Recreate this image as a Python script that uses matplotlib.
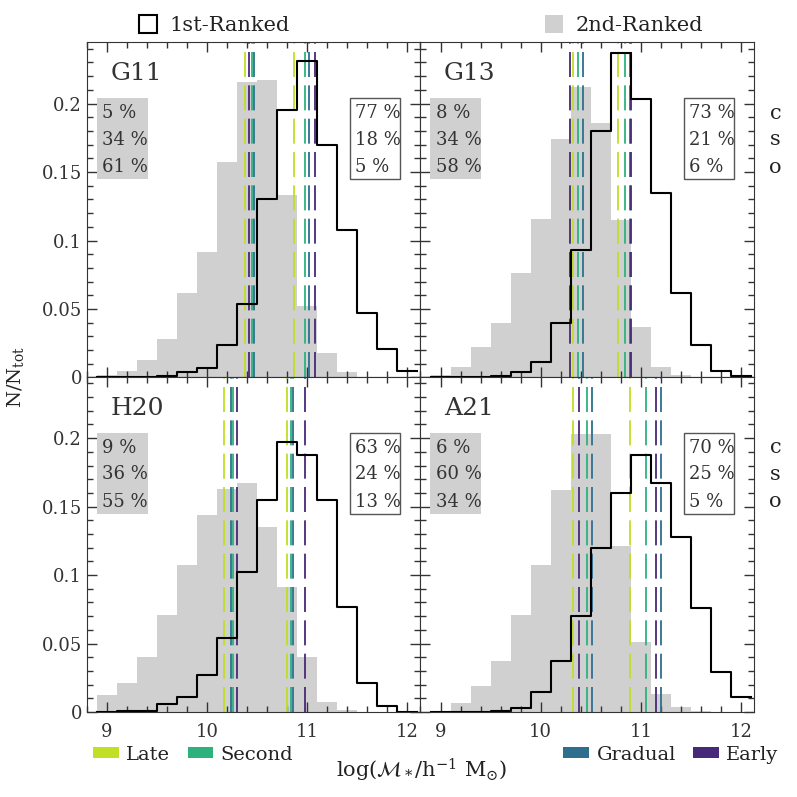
import numpy as np
import matplotlib.pyplot as plt
from matplotlib.patches import Patch, Rectangle

plt.rcParams['font.family'] = ['DejaVu Serif']
plt.rcParams['mathtext.fontset'] = 'dejavuserif'
plt.rcParams['lines.scale_dashes'] = False

# stellar mass bins (centres), width 0.2 dex
mass_bins = [9.0, 9.2, 9.4, 9.6, 9.8, 10.0, 10.2, 10.4,
             10.6, 10.8, 11.0, 11.2, 11.4, 11.6, 11.8, 12.0]
bin_width = 0.2

models = ['G11', 'G13', 'H20', 'A21']

# N/Ntot of 1st-ranked (black outline) and 2nd-ranked (grey) galaxies
first_g11 = [0, 0, 0, 0.0012, 0.0037, 0.007, 0.024, 0.054, 0.130, 0.195, 0.231, 0.170, 0.108, 0.047, 0.021, 0.0046]
second_g11 = [0.0017, 0.005, 0.0127, 0.028, 0.062, 0.0916, 0.157, 0.216, 0.217, 0.133, 0.052, 0.0176, 0.0042, 0.0005, 0, 0]
first_g13 = [0, 0, 0.0005, 0.001, 0.004, 0.011, 0.040, 0.093, 0.180, 0.237, 0.203, 0.135, 0.062, 0.024, 0.005, 0.001]
second_g13 = [0.0017, 0.008, 0.022, 0.040, 0.076, 0.116, 0.174, 0.212, 0.186, 0.115, 0.037, 0.0073, 0.0017, 0, 0, 0]
first_h20 = [0, 0.001, 0.001, 0.0056, 0.011, 0.027, 0.054, 0.102, 0.155, 0.197, 0.188, 0.155, 0.077, 0.0215, 0.0044, 0]
second_h20 = [0.0125, 0.021, 0.040, 0.071, 0.107, 0.1436, 0.163, 0.167, 0.135, 0.091, 0.040, 0.0076, 0.0015, 0, 0, 0]
first_a21 = [0, 0, 0, 0.0007, 0.0027, 0.0144, 0.037, 0.070, 0.120, 0.160, 0.1875, 0.167, 0.128, 0.076, 0.029, 0.0107]
second_a21 = [0.0005, 0.0063, 0.019, 0.037, 0.071, 0.107, 0.162, 0.203, 0.203, 0.121, 0.0515, 0.013, 0.004, 0.0007, 0, 0]

first_ranked = [first_g11, first_g13, first_h20, first_a21]
second_ranked = [second_g11, second_g13, second_h20, second_a21]

# median masses per formation type (one value per model)
categories = ['Late', 'Second', 'Gradual', 'Early']
cat_colors = ['#c0df25', '#2db27d', '#2e6f8e', '#482878']
late_2nd = [10.38, 10.32, 10.17, 10.32]
second_2nd = [10.45, 10.37, 10.26, 10.46]
gradual_2nd = [10.47, 10.42, 10.24, 10.51]
early_2nd = [10.42, 10.29, 10.30, 10.38]
late_1st = [10.87, 10.77, 10.80, 10.89]
second_1st = [10.975, 10.84, 10.84, 11.05]
gradual_1st = [11.02, 10.89, 10.86, 11.20]
early_1st = [11.08, 10.90, 10.98, 11.15]
medians_2nd = [late_2nd, second_2nd, gradual_2nd, early_2nd]
medians_1st = [late_1st, second_1st, gradual_1st, early_1st]

# percentages (c, s, o)
pct_2nd = [[5, 34, 61], [8, 34, 58], [9, 36, 55], [6, 60, 34]]
pct_1st = [[77, 18, 5], [73, 21, 6], [63, 24, 13], [70, 25, 5]]
type_labels = ['c', 's', 'o']

grey = '#d0d0d0'
edges = np.array(mass_bins) - bin_width / 2
edges = np.append(edges, mass_bins[-1] + bin_width / 2)

fig = plt.figure(figsize=(7.97, 7.97), dpi=100)
lefts = [0.109, 0.5276]
bottoms = [0.5264, 0.1066]
w, h = 0.4185, 0.421

for k, name in enumerate(models):
    row, col = divmod(k, 2)
    ax = fig.add_axes([lefts[col], bottoms[row], w, h])

    ax.bar(mass_bins, second_ranked[k], width=bin_width, color=grey, lw=0, zorder=1)
    for c in range(4):
        for med in (medians_2nd, medians_1st):
            ax.axvline(med[c][k], color=cat_colors[c], lw=1.3, dashes=(18, 6), zorder=2)
    yv = np.append(first_ranked[k], first_ranked[k][-1])
    ax.step(edges, yv, where='post', color='k', lw=1.5, zorder=3)

    ax.set_xlim(8.85, 12.13)
    ax.set_ylim(0, 0.245)
    ax.set_xticks([9, 10, 11, 12])
    ax.set_xticks(np.arange(8.8, 12.2, 0.2), minor=True)
    ax.set_yticks([0, 0.05, 0.1, 0.15, 0.2])
    ax.set_yticks(np.arange(0, 0.245, 0.01), minor=True)
    ax.tick_params(which='both', direction='in', top=True, right=True, colors='#333333', labelsize=13)
    ax.tick_params(which='major', length=7, width=1)
    ax.tick_params(which='minor', length=4, width=1)
    for sp in ax.spines.values():
        sp.set_color('#333333')
    if col == 0:
        ax.set_yticklabels(['0', '0.05', '0.1', '0.15', '0.2'])
    else:
        ax.set_yticklabels([])
    if row == 0:
        ax.set_xticklabels([])
    ax.tick_params(axis='x', pad=8)

    ax.text(0.07, 0.905, name, transform=ax.transAxes, fontsize=18, va='center', color='#333333')

    # grey box: 2nd-ranked, white box: 1st-ranked
    ax.add_patch(Rectangle((0.029, 0.59), 0.153, 0.243, transform=ax.transAxes,
                           facecolor=grey, edgecolor='none', zorder=4))
    ax.add_patch(Rectangle((0.789, 0.59), 0.151, 0.243, transform=ax.transAxes,
                           facecolor='white', edgecolor='#555555', lw=1, zorder=4))
    for j, yy in enumerate([0.788, 0.708, 0.627]):
        ax.text(0.045, yy, f'{pct_2nd[k][j]} %', transform=ax.transAxes, fontsize=13,
                va='center', color='#333333', zorder=5)
        ax.text(0.805, yy, f'{pct_1st[k][j]} %', transform=ax.transAxes, fontsize=13,
                va='center', color='#333333', zorder=5)
        if col == 1:
            ax.text(1.064, yy, type_labels[j], transform=ax.transAxes, fontsize=15,
                    va='center', ha='center', color='#222222')

# top legend
leg1 = fig.legend(handles=[Patch(facecolor='none', edgecolor='k', lw=1.5)], labels=['1st-Ranked'],
                  loc='center left', bbox_to_anchor=(0.175, 0.969), frameon=False, fontsize=15,
                  handlelength=0.85, handleheight=0.95, handletextpad=0.6, borderpad=0, borderaxespad=0)
leg2 = fig.legend(handles=[Patch(facecolor=grey, edgecolor='none')], labels=['2nd-Ranked'],
                  loc='center left', bbox_to_anchor=(0.684, 0.969), frameon=False, fontsize=15,
                  handlelength=0.85, handleheight=0.95, handletextpad=0.6, borderpad=0, borderaxespad=0)
for t in leg1.get_texts() + leg2.get_texts():
    t.set_color('#222222')

# bottom legends
hs = [Patch(facecolor=c, edgecolor='none') for c in cat_colors]
leg3 = fig.legend(handles=hs[:2], labels=categories[:2], loc='center left',
                  bbox_to_anchor=(0.117, 0.053), ncol=2, frameon=False, fontsize=14,
                  handlelength=1.3, handleheight=0.5, handletextpad=0.4, columnspacing=0.9,
                  borderpad=0, borderaxespad=0)
leg4 = fig.legend(handles=hs[2:], labels=categories[2:], loc='center right',
                  bbox_to_anchor=(0.977, 0.053), ncol=2, frameon=False, fontsize=14,
                  handlelength=1.3, handleheight=0.5, handletextpad=0.4, columnspacing=0.9,
                  borderpad=0, borderaxespad=0)
for t in leg3.get_texts() + leg4.get_texts():
    t.set_color('#222222')

fig.text(0.529, 0.034, r'$\log(\mathcal{M}_*/\mathrm{h}^{-1}\ \mathrm{M}_{\odot})$',
         ha='center', va='center', fontsize=15, color='#222222')
fig.text(0.02, 0.527, r'N/N$_{\rm tot}$', rotation=90, ha='center', va='center',
         fontsize=14, color='#222222')

fig.savefig('out.png', dpi=100)
